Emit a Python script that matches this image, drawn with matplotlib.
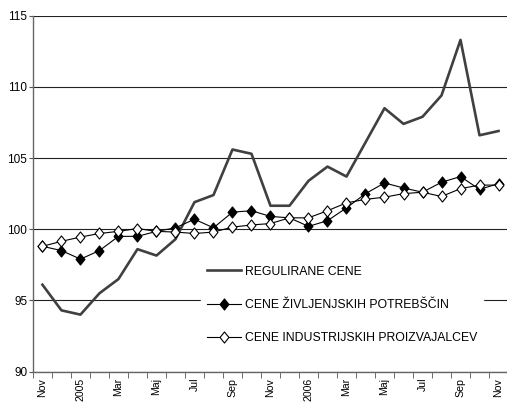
import matplotlib
matplotlib.use("Agg")
import matplotlib.pyplot as plt
from matplotlib.path import Path
import numpy as np

plt.rcParams['font.family'] = ['Liberation Sans', 'DejaVu Sans']

# months Nov 2004 .. Nov 2006, label on every other month
months = ["Nov", "Dec", "2005", "Feb", "Mar", "Apr", "Maj", "Jun", "Jul", "Avg", "Sep", "Okt",
          "Nov", "Dec", "2006", "Feb", "Mar", "Apr", "Maj", "Jun", "Jul", "Avg", "Sep", "Okt", "Nov"]

regulirane = [96.1, 94.3, 94.0, 95.5, 96.5, 98.6, 98.15, 99.3, 101.9, 102.4, 105.6, 105.3,
              101.65, 101.65, 103.4, 104.4, 103.7, 106.1, 108.5, 107.4, 107.9, 109.4, 113.3,
              106.6, 106.9]
zivljenjske = [98.8, 98.5, 97.9, 98.5, 99.5, 99.5, 99.85, 100.1, 100.7, 100.1, 101.2, 101.3,
               100.9, 100.8, 100.2, 100.6, 101.5, 102.5, 103.25, 102.9, 102.6, 103.3, 103.7,
               102.8, 103.2]
proizvajalci = [98.8, 99.15, 99.45, 99.7, 99.85, 100.05, 99.85, 99.8, 99.7, 99.8, 100.15, 100.3,
                100.4, 100.8, 100.8, 101.3, 101.85, 102.1, 102.25, 102.5, 102.6, 102.3, 102.85,
                103.1, 103.1]

diamond = Path([(0, 1), (0.8, 0), (0, -1), (-0.8, 0), (0, 1)],
               [Path.MOVETO, Path.LINETO, Path.LINETO, Path.LINETO, Path.CLOSEPOLY])

fig = plt.figure(figsize=(5.07, 4.03), dpi=100)
ax = fig.add_axes([0.065, 0.078, 0.937, 0.883])

x = np.arange(len(months))
ax.plot(x, regulirane, '-', color='#404040', linewidth=1.9, label="REGULIRANE CENE", zorder=3)
ax.plot(x, zivljenjske, '-', color='black', linewidth=0.8, marker=diamond, markersize=8,
        markerfacecolor='black', markeredgecolor='black', markeredgewidth=0.8,
        label="CENE ŽIVLJENJSKIH POTREBŠČIN", zorder=4)
ax.plot(x, proizvajalci, '-', color='black', linewidth=0.8, marker=diamond, markersize=8,
        markerfacecolor='white', markeredgecolor='black', markeredgewidth=0.8,
        label="CENE INDUSTRIJSKIH PROIZVAJALCEV", zorder=5)

ax.set_xlim(-0.5, len(months) - 0.5)
ax.set_ylim(90, 115)
ax.set_yticks(np.arange(90, 116, 5))
ax.yaxis.grid(True, color='#222222', linewidth=0.8)
ax.set_axisbelow(True)

ax.set_xticks(x[::2])
ax.set_xticklabels(months[::2], rotation=90, fontsize=7.6)
ax.set_xticks(np.arange(-0.5, len(months), 1), minor=True)
ax.tick_params(axis='x', which='major', length=0, pad=4.5)
ax.tick_params(axis='x', which='minor', length=4, color='#555555')
ax.tick_params(axis='y', length=3, color='#555555', labelsize=8.5, pad=1)

for s in ['top', 'right']:
    ax.spines[s].set_visible(False)
for s in ['left', 'bottom']:
    ax.spines[s].set_color('#666666')
    ax.spines[s].set_linewidth(1.0)

leg = ax.legend(loc='center left', bbox_to_anchor=(0.354, 0.187), fontsize=8.8,
                frameon=True, facecolor='white', edgecolor='white', framealpha=1,
                fancybox=False, borderaxespad=0, borderpad=0.5, labelspacing=1.75,
                handlelength=2.8, handletextpad=0.25)
leg.set_zorder(10)

fig.savefig('out.png', dpi=100)
